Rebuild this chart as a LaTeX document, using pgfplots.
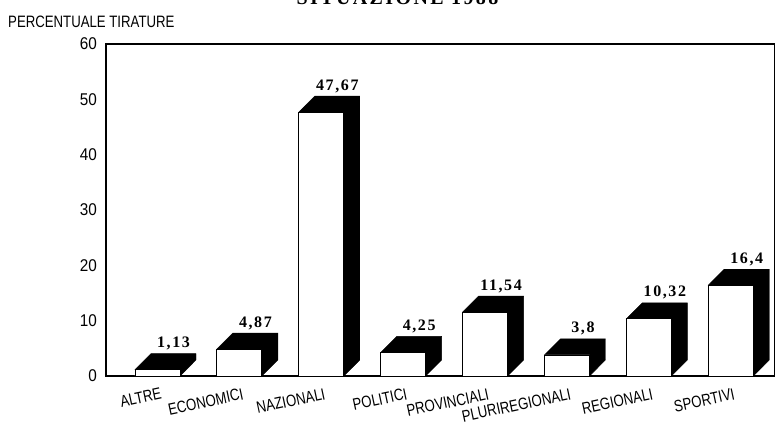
\documentclass[border=0pt]{standalone}
\usepackage{fontspec}
\usepackage{pgfplots}
\usepackage{pgfplotstable}
\pgfplotsset{compat=1.18}
\setmainfont{Liberation Sans}
\newfontfamily\narrowsans{Liberation Sans}[FakeStretch=0.8]
\newfontfamily\ticksans{Liberation Sans}[FakeStretch=0.9]
\newfontfamily\valfont{Liberation Serif}[LetterSpace=10]
\newfontfamily\titlefont{Liberation Serif}[LetterSpace=12]
\pgfplotstableread{
i v lab
0 1.13 1,13
1 4.87 4,87
2 47.67 47,67
3 4.25 4,25
4 11.54 11,54
5 3.8 3,8
6 10.32 10,32
7 16.4 16,4
}\datatable
\begin{document}
\begin{tikzpicture}
\begin{axis}[
  name=ax,
  scale only axis, width=669pt, height=332pt,
  xmin=-0.629, xmax=7.54, ymin=0, ymax=60,
  ytick={0,10,...,60}, xtick={0,...,7},
  xticklabels={ALTRE,ECONOMICI,NAZIONALI,POLITICI,PROVINCIALI,\raisebox{-4pt}{PLURIREGIONALI},REGIONALI,SPORTIVI},
  major tick length=0pt,
  axis line style={line width=1.3pt},
  /pgf/number format/assume math mode=true,
  yticklabel style={font=\ticksans\fontsize{17}{17}\selectfont, inner sep=0pt, xshift=-9pt},
  xticklabel style={font=\narrowsans\fontsize{16.5}{16.5}\selectfont, rotate=12, anchor=north east, inner sep=0pt, yshift=-12pt},
  clip=false,
]
\addplot[fill=black, draw=black] coordinates {(-0.275,1.13)(-0.08,4.03)(0.47,4.03)(0.47,2.9)(0.275,0)(0.275,1.13)} -- cycle;
\addplot[fill=black, draw=black] coordinates {(0.725,4.87)(0.92,7.77)(1.47,7.77)(1.47,2.9)(1.275,0)(1.275,4.87)} -- cycle;
\addplot[fill=black, draw=black] coordinates {(1.725,47.67)(1.92,50.57)(2.47,50.57)(2.47,2.9)(2.275,0)(2.275,47.67)} -- cycle;
\addplot[fill=black, draw=black] coordinates {(2.725,4.25)(2.92,7.15)(3.47,7.15)(3.47,2.9)(3.275,0)(3.275,4.25)} -- cycle;
\addplot[fill=black, draw=black] coordinates {(3.725,11.54)(3.92,14.44)(4.47,14.44)(4.47,2.9)(4.275,0)(4.275,11.54)} -- cycle;
\addplot[fill=black, draw=black] coordinates {(4.725,3.8)(4.92,6.7)(5.47,6.7)(5.47,2.9)(5.275,0)(5.275,3.8)} -- cycle;
\addplot[fill=black, draw=black] coordinates {(5.725,10.32)(5.92,13.22)(6.47,13.22)(6.47,2.9)(6.275,0)(6.275,10.32)} -- cycle;
\addplot[fill=black, draw=black] coordinates {(6.725,16.4)(6.92,19.3)(7.47,19.3)(7.47,2.9)(7.275,0)(7.275,16.4)} -- cycle;
\addplot[ybar, bar width=0.55, bar shift=0pt, fill=white, draw=black, line width=0.9pt,
  nodes near coords, point meta=explicit symbolic,
  every node near coord/.append style={font=\valfont\bfseries\fontsize{16}{16}\selectfont, anchor=base, inner sep=0pt, xshift=16pt, yshift=22pt}]
  table[x=i, y=v, meta=lab] {\datatable};
\end{axis}
\node[font=\titlefont\bfseries\fontsize{20}{20}\selectfont, anchor=base] at ([xshift=291.5pt, yshift=39.5pt]ax.north west) {SITUAZIONE 1988};
\node[font=\narrowsans\fontsize{16.5}{16.5}\selectfont, anchor=base west, inner sep=0pt] at ([xshift=-98pt, yshift=16pt]ax.north west) {PERCENTUALE TIRATURE};
\pgfresetboundingbox
\path[use as bounding box] ([xshift=-106pt,yshift=-52pt]ax.south west) rectangle ([yshift=44pt]ax.north east);
\end{tikzpicture}
\end{document}
